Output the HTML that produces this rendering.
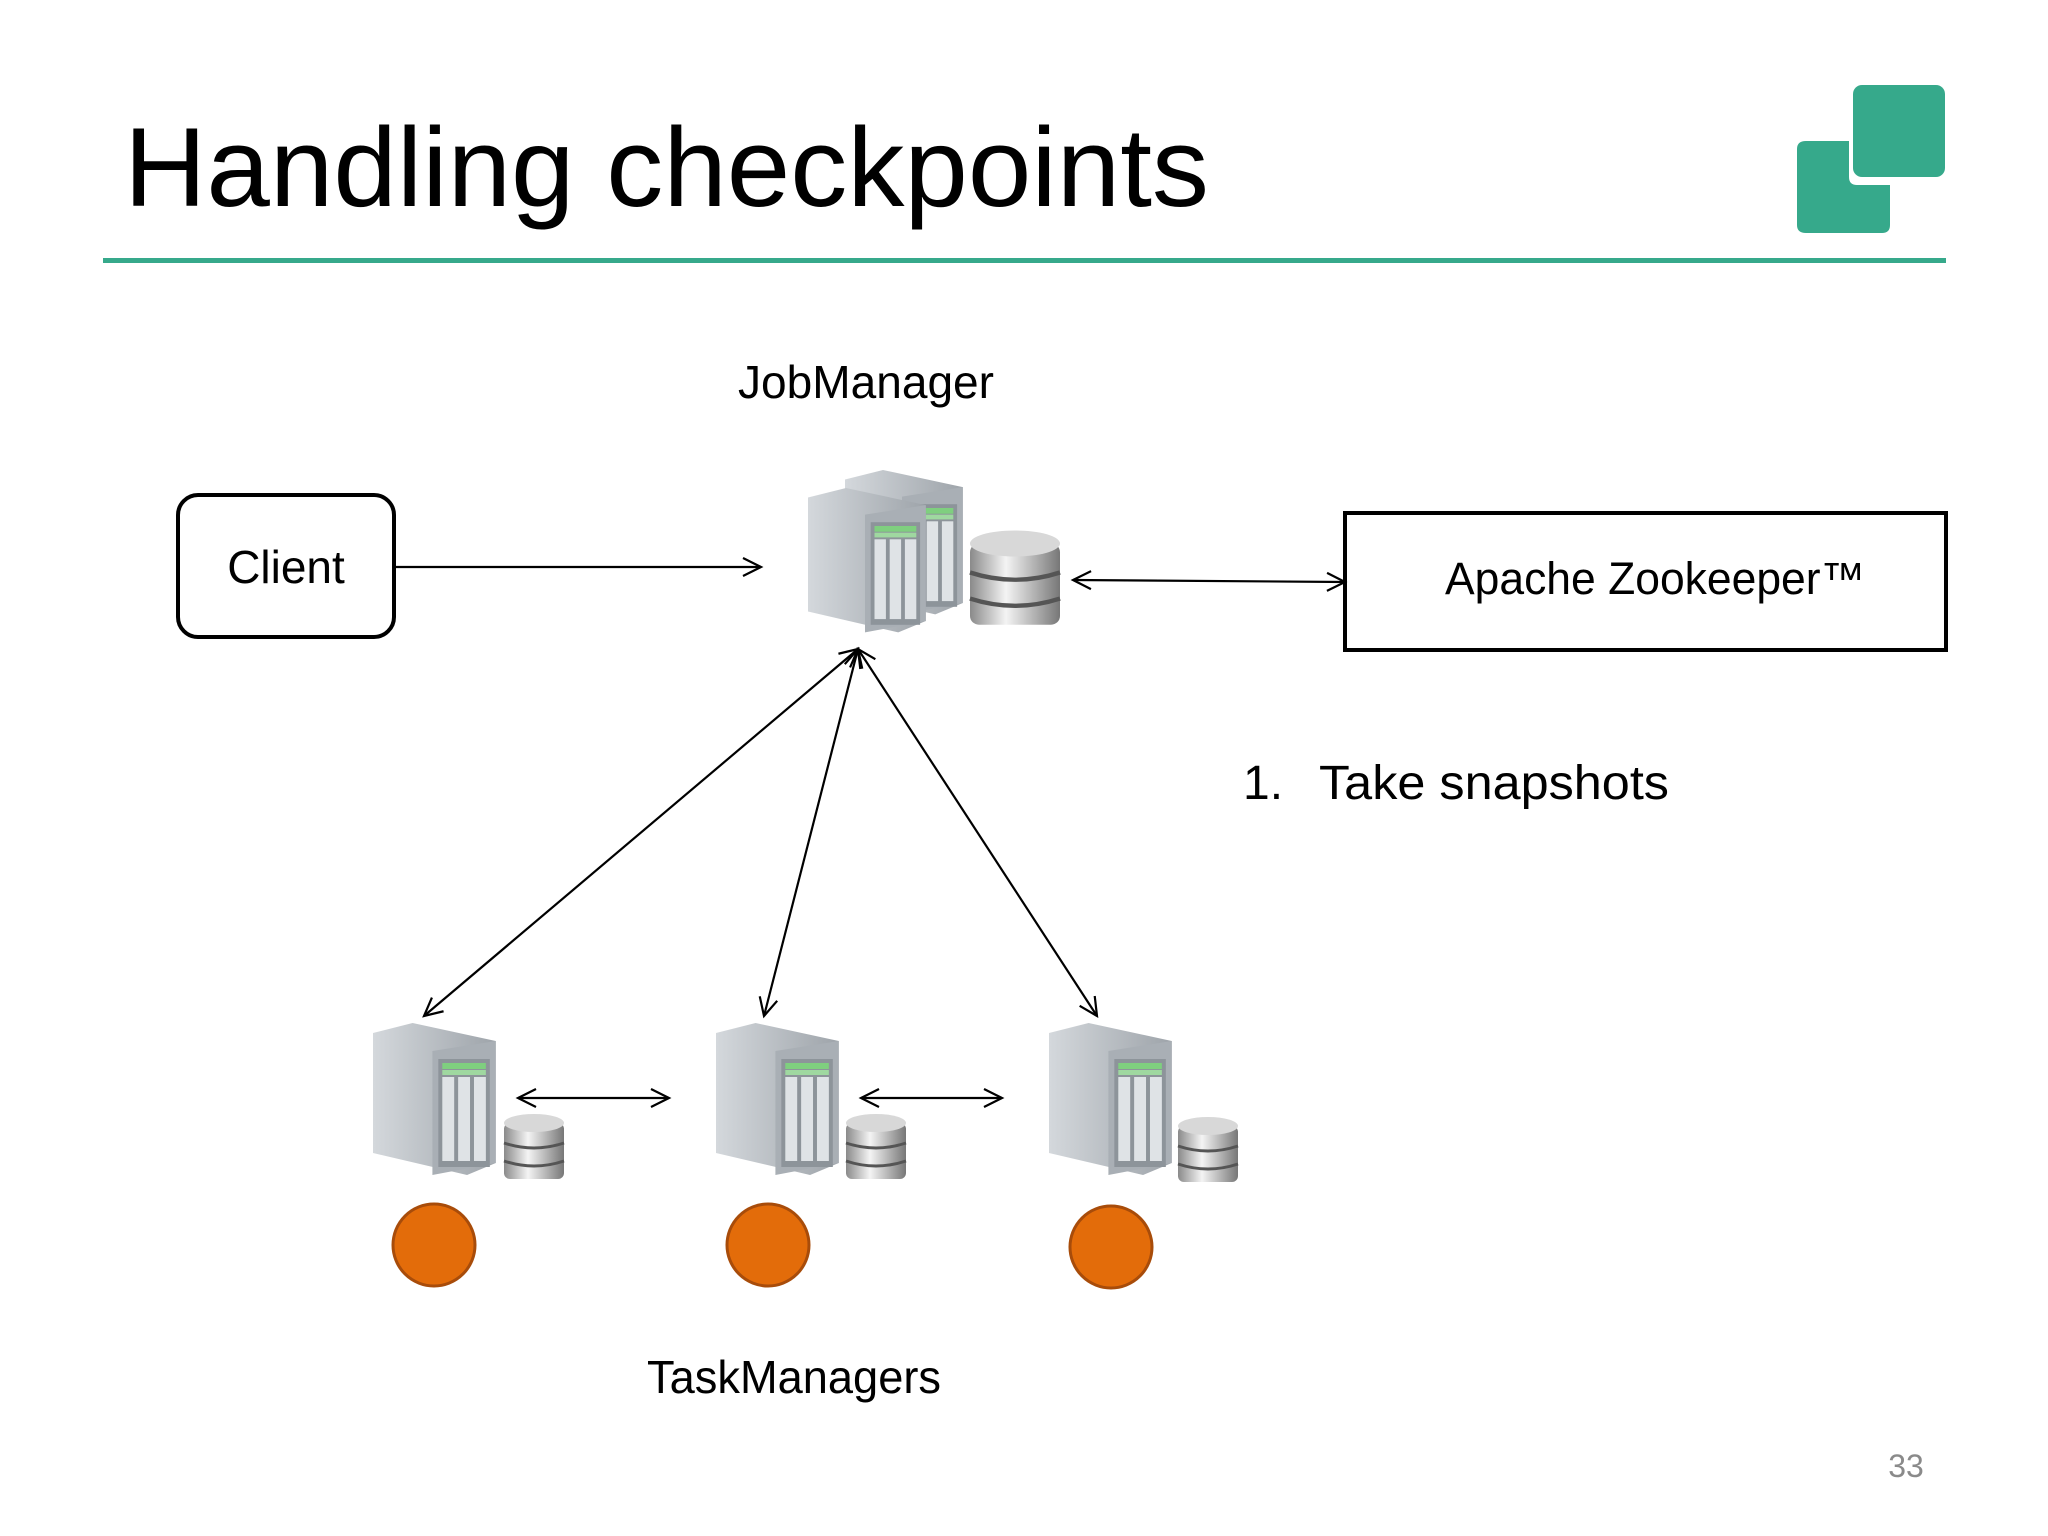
<!DOCTYPE html>
<html><head><meta charset="utf-8"><style>
html,body{margin:0;padding:0;background:#fff}
svg{display:block}
text{font-family:"Liberation Sans",sans-serif}
</style></head><body>
<svg width="2048" height="1536" viewBox="0 0 2048 1536" xmlns="http://www.w3.org/2000/svg">
<defs>
<marker id="a" markerWidth="24" markerHeight="24" refX="20" refY="12" orient="auto-start-reverse" markerUnits="userSpaceOnUse">
<path d="M2,3 L20,12 L2,21" fill="none" stroke="#000" stroke-width="2.2"/>
</marker>
<linearGradient id="sv" x1="0" x2="1"><stop offset="0" stop-color="#d4d8dc"/><stop offset="1" stop-color="#9ea4aa"/></linearGradient>
<linearGradient id="db" x1="0" x2="1"><stop offset="0" stop-color="#8a8a8a"/><stop offset=".4" stop-color="#f4f4f4"/><stop offset="1" stop-color="#777"/></linearGradient>
<g id="srv">
<path d="M0,10 L40,0 L124,18 L124,140 L95,152 L0,130 Z" fill="url(#sv)"/>
<path d="M60,28 L124,18 L124,140 L60,152 Z" fill="#a9afb5"/>
<rect x="66" y="36" width="52" height="108" fill="#8d949a"/>
<g fill="#dfe3e6"><rect x="70" y="54" width="12" height="84"/><rect x="86" y="54" width="12" height="84"/><rect x="102" y="54" width="12" height="84"/></g>
<rect x="70" y="40" width="44" height="6" fill="#7fcf7f"/><rect x="70" y="47" width="44" height="5" fill="#9fd8a0"/>
</g>
<g id="db1">
<rect x="0" y="10" width="60" height="56" rx="6" fill="url(#db)"/>
<ellipse cx="30" cy="10" rx="30" ry="9" fill="#d8d8d8"/>
<path d="M0,30 Q30,40 60,30 M0,48 Q30,58 60,48" stroke="#555" stroke-width="3" fill="none"/>
</g>
</defs>
<text x="124" y="206" font-size="112" textLength="1085" lengthAdjust="spacingAndGlyphs" fill="#000">Handling checkpoints</text>
<rect x="103" y="258" width="1843" height="5" fill="#36a98b"/>
<rect x="1853" y="85" width="92" height="92" rx="9" fill="#36a98b"/>
<path d="M1806,141 H1849 V177 Q1849,185 1857,185 H1890 V225 Q1890,233 1882,233 H1806 Q1797,233 1797,225 V149 Q1797,141 1806,141 Z" fill="#36a98b"/>

<text x="866" y="398" font-size="46" text-anchor="middle" textLength="256" lengthAdjust="spacingAndGlyphs">JobManager</text>
<rect x="178" y="495" width="216" height="142" rx="20" fill="none" stroke="#000" stroke-width="4"/>
<text x="286" y="583" font-size="46" text-anchor="middle">Client</text>
<rect x="1345" y="513" width="601" height="137" fill="none" stroke="#000" stroke-width="4"/>
<text x="1655" y="594" font-size="45" text-anchor="middle" textLength="420" lengthAdjust="spacingAndGlyphs">Apache Zookeeper™</text>
<text x="1243" y="799" font-size="48">1.</text>
<text x="1319" y="799" font-size="48" textLength="350" lengthAdjust="spacingAndGlyphs">Take snapshots</text>

<use href="#srv" transform="translate(845,470) scale(0.95)"/>
<use href="#srv" transform="translate(808,488) scale(0.95)"/>
<use href="#db1" transform="translate(970,529) scale(1.5,1.45)"/>

<g stroke="#000" stroke-width="2.2" fill="none">
<line x1="394" y1="567" x2="761" y2="567" marker-end="url(#a)"/>
<line x1="1073" y1="580" x2="1345" y2="582" marker-start="url(#a)" marker-end="url(#a)"/>
<line x1="858" y1="649" x2="424" y2="1016" marker-start="url(#a)" marker-end="url(#a)"/>
<line x1="858" y1="649" x2="764" y2="1016" marker-start="url(#a)" marker-end="url(#a)"/>
<line x1="858" y1="649" x2="1097" y2="1016" marker-start="url(#a)" marker-end="url(#a)"/>
<line x1="518" y1="1098" x2="669" y2="1098" marker-start="url(#a)" marker-end="url(#a)"/>
<line x1="861" y1="1098" x2="1002" y2="1098" marker-start="url(#a)" marker-end="url(#a)"/>
</g>

<use href="#srv" transform="translate(373,1023) scale(0.99,1.0)"/>
<use href="#srv" transform="translate(716,1023) scale(0.99,1.0)"/>
<use href="#srv" transform="translate(1049,1023) scale(0.99,1.0)"/>
<use href="#db1" transform="translate(504,1113)"/>
<use href="#db1" transform="translate(846,1113)"/>
<use href="#db1" transform="translate(1178,1116)"/>

<g fill="#e36c0a" stroke="#a84c0a" stroke-width="3">
<circle cx="434" cy="1245" r="41"/>
<circle cx="768" cy="1245" r="41"/>
<circle cx="1111" cy="1247" r="41"/>
</g>
<text x="794" y="1393" font-size="46" text-anchor="middle" textLength="294" lengthAdjust="spacingAndGlyphs">TaskManagers</text>
<text x="1906" y="1477" font-size="32" text-anchor="middle" fill="#8a8a8a">33</text>
</svg>
</body></html>
